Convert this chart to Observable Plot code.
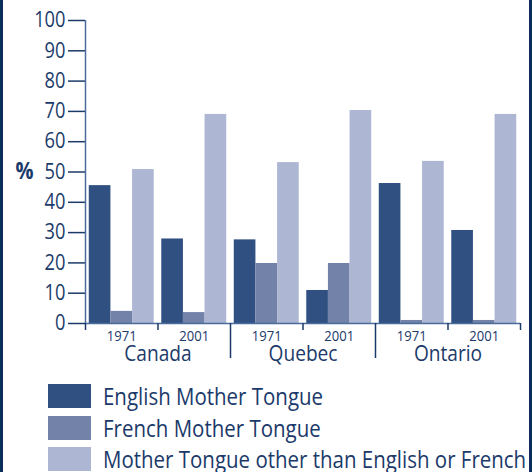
<!DOCTYPE html>
<html><head><meta charset="utf-8">
<script src="https://cdn.jsdelivr.net/npm/d3@7"></script>
<script src="https://cdn.jsdelivr.net/npm/@observablehq/plot@0.6"></script>
<style>
html,body{margin:0;padding:0;background:#fff;}
#wrap{position:relative;width:532px;height:472px;overflow:hidden;font-family:"Open Sans",sans-serif;color:#1b3a6a;}
#chart svg{font-family:"Open Sans",sans-serif;}
.bl{position:absolute;top:0;bottom:0;width:3px;background:#0b2d5c;}
#legend{position:absolute;left:48px;top:384px;}
.row{display:flex;align-items:center;height:24px;margin-bottom:7.5px;}
.sw{width:43px;height:24px;margin-right:12px;flex:none;}
.lab{font-size:23px;white-space:nowrap;line-height:24px;transform:scaleX(0.89);transform-origin:0 50%;}
</style></head><body>
<div id="wrap"><div id="chart"></div><div id="legend"></div><div class="bl" style="left:0"></div><div class="bl" style="right:0"></div></div>
<script>
const regions = ["Canada", "Quebec", "Ontario"];
const years = ["1971", "2001"];
const series = ["English Mother Tongue", "French Mother Tongue", "Mother Tongue other than English or French"];
const colors = ["#2f5081", "#7282a8", "#adb6d2"];
// values per group: Canada 1971, Canada 2001, Quebec 1971, Quebec 2001, Ontario 1971, Ontario 2001
const english = [45.5, 27.9, 27.6, 10.9, 46.2, 30.7];
const french = [4.0, 3.6, 19.8, 19.8, 1.0, 1.0];
const other = [50.8, 69.0, 53.1, 70.3, 53.5, 69.0];
const yTicks = [0, 10, 20, 30, 40, 50, 60, 70, 80, 90, 100];

const groups = regions.flatMap(r => years.map(y => ({region: r, year: y})));
const valueSets = [english, french, other];
const pad = 0.052, bw = (1 - 2 * pad) / 3;
const bars = [];
groups.forEach((g, gi) => {
  valueSets.forEach((vals, si) => {
    bars.push({g: gi, s: si, series: series[si], value: vals[gi]});
  });
});

const ink = "#1b3a6a";
const axisBlue = "#4a6b9b";

const chart = Plot.plot({
  width: 532, height: 380,
  marginLeft: 85, marginRight: 12, marginTop: 20, marginBottom: 57,
  x: {domain: [0, groups.length], axis: null},
  y: {domain: [0, 100], axis: null},
  color: {domain: series, range: colors},
  style: {color: ink, background: "transparent"},
  marks: [
    Plot.rectY(bars, {x1: d => d.g + pad + d.s * bw, x2: d => d.g + pad + (d.s + 1) * bw, y: "value", fill: "series"}),
    Plot.axisY({ticks: yTicks, tickSize: 17, tickPadding: 3, fontSize: 21, stroke: ink, strokeWidth: 1.5, label: null, anchor: "left"}),
    Plot.ruleX([0], {y1: 0, y2: 100, stroke: axisBlue, strokeWidth: 1.5}),
    Plot.ruleY([0], {x1: 0, x2: groups.length, stroke: axisBlue, strokeWidth: 1.5}),
    Plot.ruleX(d3.range(groups.length + 1).filter(i => i % 2 !== 0 || i === 0 || i === groups.length), {x: d => d, y1: 0, y2: 0, insetBottom: -7, stroke: ink, strokeWidth: 1.5}),
    Plot.ruleX(d3.range(2, groups.length, 2), {x: d => d, y1: 0, y2: 0, insetBottom: -35, stroke: ink, strokeWidth: 1.5}),
    Plot.text(groups, {x: (d, i) => i + 0.5, y: () => 0, text: "year", dy: 13, fontSize: 15, fill: ink}),
    Plot.text(regions, {x: (d, i) => 2 * i + 1, y: () => 0, text: d => d, dy: 30, fontSize: 22, fill: ink}),
    Plot.text(["%"], {frameAnchor: "left", y: () => 50, dx: -70, textAnchor: "start", fontWeight: "bold", fontSize: 23, fill: ink})
  ]
});
// slightly condensed lettering, as in the reference
chart.querySelectorAll("text").forEach(t => {
  const tr = t.getAttribute("transform") || "";
  t.setAttribute("transform", tr + " scale(0.87,1)");
});
document.getElementById("chart").appendChild(chart);

const legend = document.getElementById("legend");
series.forEach((s, i) => {
  const row = document.createElement("div");
  row.className = "row";
  const sw = document.createElement("div");
  sw.className = "sw";
  sw.style.background = colors[i];
  const lab = document.createElement("div");
  lab.className = "lab";
  lab.textContent = s;
  row.appendChild(sw);
  row.appendChild(lab);
  legend.appendChild(row);
});
</script>
</body></html>
